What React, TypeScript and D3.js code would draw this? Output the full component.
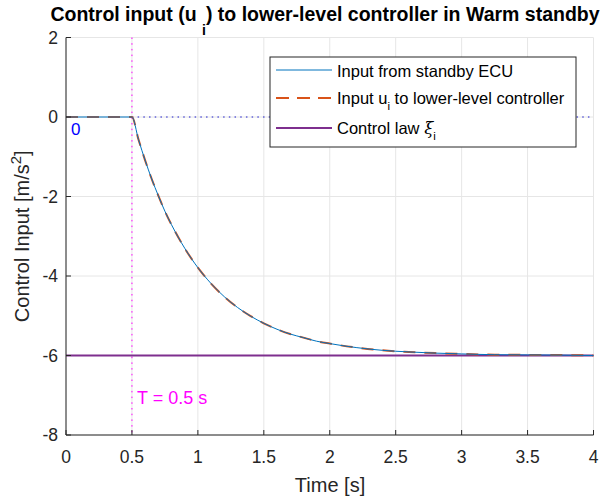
import React from "react";
import * as d3 from "d3";

const timeS = [0, 0.5, 0.55, 0.6, 0.65, 0.7, 0.75, 0.8, 0.9, 1.0, 1.1, 1.2, 1.3, 1.4, 1.5, 1.6, 1.7, 1.8, 1.9, 2.0, 2.2, 2.4, 2.6, 2.8, 3.0, 3.25, 3.5, 3.75, 4.0];
const standbyInput = [0, 0, -0.57, -1.09, -1.56, -1.98, -2.37, -2.71, -3.30, -3.79, -4.19, -4.52, -4.79, -5.01, -5.19, -5.34, -5.46, -5.55, -5.64, -5.70, -5.80, -5.87, -5.91, -5.94, -5.96, -5.98, -5.985, -5.99, -6.0];
const lowerInput = [0, 0, -0.57, -1.09, -1.56, -1.98, -2.37, -2.71, -3.30, -3.79, -4.19, -4.52, -4.79, -5.01, -5.19, -5.34, -5.46, -5.55, -5.64, -5.70, -5.80, -5.87, -5.91, -5.94, -5.96, -5.98, -5.985, -5.99, -6.0];
const lawTime = [0, 4];
const lawValue = [-6, -6];
const xTicks = [0, 0.5, 1, 1.5, 2, 2.5, 3, 3.5, 4];
const yTicks = [-8, -6, -4, -2, 0, 2];
const switchTime = 0.5;

const W = 615, H = 503;
const L = 66, R = 593.5, T = 37.5, B = 435;
const FONT = "Liberation Sans, Arial, Helvetica, sans-serif";

export default function App() {
  const x = d3.scaleLinear().domain([0, 4]).range([L, R]);
  const y = d3.scaleLinear().domain([-8, 2]).range([B, T]);
  const pts = (xs: number[], ys: number[]) => xs.map((t, i) => [t, ys[i]] as [number, number]);
  const line = d3.line<[number, number]>().x(d => x(d[0])).y(d => y(d[1])).curve(d3.curveMonotoneX);

  const legX = 270, legY = 57, legW = 306, legH = 90;
  return (
    <svg width={W} height={H} style={{ position: "absolute", left: 0, top: 0, background: "#fff" }} fontFamily={FONT}>
      <rect x={0} y={0} width={W} height={H} fill="#fff" />
      {/* grid */}
      {xTicks.map(t => (
        <line key={"gx" + t} x1={x(t)} x2={x(t)} y1={T} y2={B} stroke="#e6e6e6" strokeWidth={1} />
      ))}
      {yTicks.map(t => (
        <line key={"gy" + t} x1={L} x2={R} y1={y(t)} y2={y(t)} stroke="#e6e6e6" strokeWidth={1} />
      ))}
      {/* zero dotted line */}
      <line x1={x(switchTime)} x2={R} y1={y(0)} y2={y(0)} stroke="#1a1acc" strokeWidth={1} strokeDasharray="1.5,4.2" />
      {/* switch line */}
      <line x1={x(switchTime)} x2={x(switchTime)} y1={T} y2={B} stroke="#ff00ff" strokeWidth={1} strokeDasharray="1.5,4.2" />
      {/* control law */}
      <path d={line(pts(lawTime, lawValue)) || ""} fill="none" stroke="#7E2F8E" strokeWidth={2} />
      {/* lower-level input */}
      <path d={line(pts(timeS, lowerInput)) || ""} fill="none" stroke="#D95319" strokeWidth={2} strokeDasharray="12,9" />
      {/* standby input */}
      <path d={line(pts(timeS, standbyInput)) || ""} fill="none" stroke="#0072BD" strokeWidth={1} />
      {/* axes */}
      <line x1={L} x2={L} y1={T} y2={B} stroke="#262626" strokeWidth={1} />
      <line x1={L} x2={R} y1={B} y2={B} stroke="#262626" strokeWidth={1} />
      {xTicks.map(t => (
        <g key={"tx" + t}>
          <line x1={x(t)} x2={x(t)} y1={B} y2={B - 5} stroke="#262626" />
          <text x={x(t)} y={B + 28} fontSize={17.5} textAnchor="middle" fill="#262626">{t}</text>
        </g>
      ))}
      {yTicks.map(t => (
        <g key={"ty" + t}>
          <line x1={L} x2={L + 5} y1={y(t)} y2={y(t)} stroke="#262626" />
          <text x={L - 8} y={y(t) + 6} fontSize={17.5} textAnchor="end" fill="#262626">{t}</text>
        </g>
      ))}
      {/* annotations */}
      <text x={71} y={135} fontSize={17} fill="#0000ff">0</text>
      <text x={137} y={404} fontSize={18} fill="#ff00ff">T = 0.5 s</text>
      {/* labels */}
      <text x={330} y={492} fontSize={20} textAnchor="middle" fill="#262626">Time [s]</text>
      <text transform={`translate(29,${(T + B) / 2}) rotate(-90)`} fontSize={20} textAnchor="middle" fill="#262626">
        Control Input [m/s<tspan dy={-8} fontSize={15}>2</tspan><tspan dy={8}>]</tspan>
      </text>
      <text x={325} y={21} fontSize={19.5} fontWeight="bold" textAnchor="middle" fill="#000">
        Control input (u <tspan dy={14} fontSize={14}>i</tspan><tspan dy={-14}>) to lower-level controller in Warm standby</tspan>
      </text>
      {/* legend */}
      <rect x={legX} y={legY} width={legW} height={legH} fill="#fff" stroke="#262626" strokeWidth={1} />
      <line x1={276} x2={332} y1={70} y2={70} stroke="#0072BD" strokeWidth={1} />
      <text x={337} y={77} fontSize={16.5} fill="#000">Input from standby ECU</text>
      <line x1={276} x2={332} y1={98} y2={98} stroke="#D95319" strokeWidth={2} strokeDasharray="13,8" />
      <text x={337} y={104} fontSize={16.5} fill="#000">Input u<tspan dy={6} fontSize={11.5}>i</tspan><tspan dy={-6}> to lower-level controller</tspan></text>
      <line x1={276} x2={332} y1={128} y2={128} stroke="#7E2F8E" strokeWidth={2} />
      <text x={337} y={134} fontSize={16.5} fill="#000">Control law <tspan fontFamily="DejaVu Serif, serif" fontStyle="italic">ξ</tspan><tspan dy={6} fontSize={11.5}>i</tspan></text>
    </svg>
  );
}
